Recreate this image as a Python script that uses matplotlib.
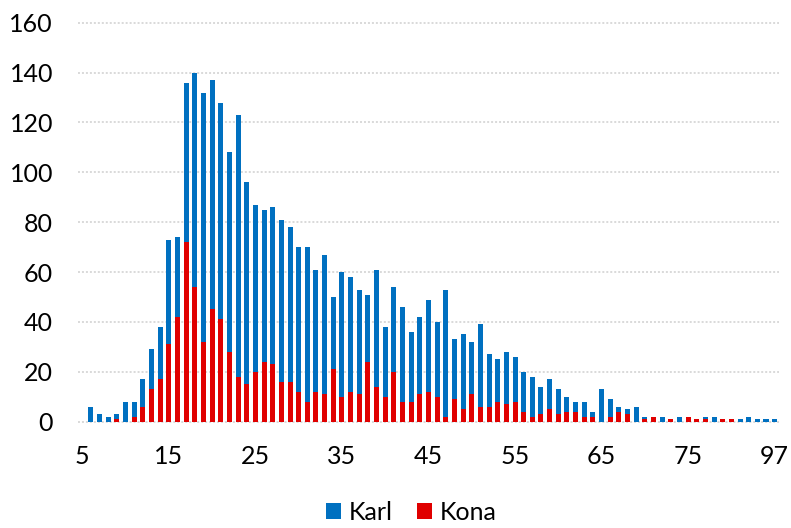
#!/usr/bin/env python3
"""Age distribution bar chart, Karl vs Kona (overlapping bars)."""

import matplotlib.pyplot as plt

plt.rcParams["font.family"] = ["Lato", "DejaVu Sans"]

# category labels: ages 5..75 then a sparse tail ending at 97
ages = [str(a) for a in range(5, 76)] + [
    "76", "77", "78", "79", "80", "81", "83", "85", "88", "97",
]

karl = [
    0, 6, 3, 2, 3, 8, 8, 17, 29, 38,
    73, 74, 136, 140, 132, 137, 128, 108, 123, 96,
    87, 85, 86, 81, 78, 70, 70, 61, 67, 50,
    60, 58, 53, 51, 61, 38, 54, 46, 36, 42,
    49, 40, 53, 33, 35, 32, 39, 27, 25, 28,
    26, 20, 18, 14, 17, 13, 10, 8, 8, 4,
    13, 9, 6, 5, 6, 2, 0, 2, 0, 2,
    0, 0, 2, 2, 0, 0, 1, 2, 1, 1, 1,
]

kona = [
    0, 0, 0, 0, 1, 0, 2, 6, 13, 17,
    31, 42, 72, 54, 32, 45, 41, 28, 18, 15,
    20, 24, 23, 16, 16, 12, 8, 12, 11, 21,
    10, 12, 11, 24, 14, 10, 20, 8, 8, 11,
    12, 10, 2, 9, 5, 11, 6, 6, 8, 7,
    8, 4, 2, 3, 5, 3, 4, 4, 2, 2,
    0, 2, 4, 3, 0, 1, 2, 0, 1, 0,
    2, 1, 1, 0, 1, 1, 0, 0, 0, 0, 0,
]

BLUE = "#0070C0"
RED = "#E00000"


def main() -> None:
    fig = plt.figure(figsize=(7.91, 5.28), dpi=100)
    ax = fig.add_axes([0.0986, 0.2013, 0.8862, 0.7557])

    x = list(range(len(ages)))
    ax.bar(x, karl, width=0.58, color=BLUE, label="Karl", zorder=2)
    ax.bar(x, kona, width=0.58, color=RED, label="Kona", zorder=3)

    ax.set_xlim(-0.5, len(ages) - 0.5)
    ax.set_ylim(0, 160)
    ax.set_yticks(range(0, 161, 20))
    ax.set_xticks(x[::10], ages[::10])

    ax.grid(axis="y", color="#d0d0d0", linewidth=1.1, linestyle=(0, (1.3, 1.3)))
    for gl in ax.get_ygridlines():
        gl.set_clip_on(False)
    ax.set_axisbelow(True)

    for s in ax.spines.values():
        s.set_visible(False)
    ax.tick_params(axis="both", length=0, labelsize=18, colors="black")
    ax.tick_params(axis="y", pad=18)
    ax.tick_params(axis="x", pad=17)

    fig.legend(
        loc="center",
        bbox_to_anchor=(0.52, 0.03),
        ncol=2,
        frameon=False,
        fontsize=18,
        handlelength=0.6,
        handleheight=0.6,
        handletextpad=0.3,
        columnspacing=1.0,
        borderpad=0.1,
    )

    fig.savefig("out.png", dpi=100)
    plt.close(fig)


if __name__ == "__main__":
    main()
